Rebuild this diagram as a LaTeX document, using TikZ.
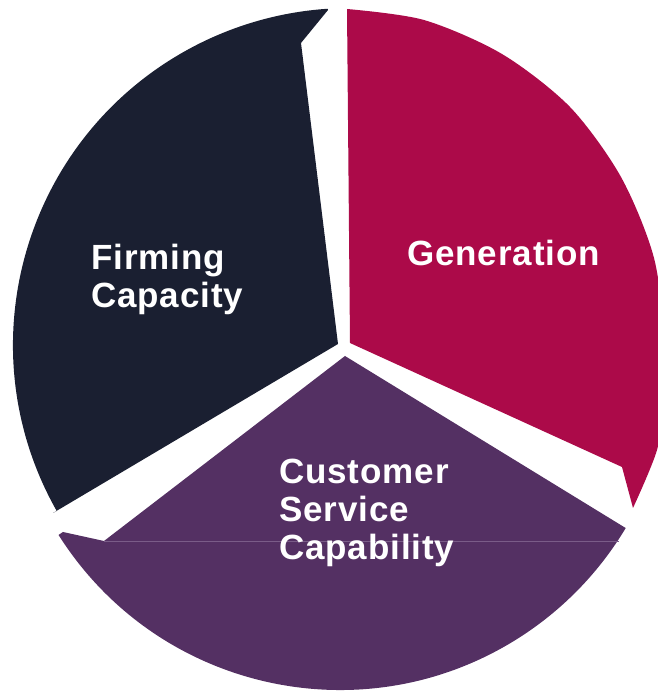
\documentclass[tikz,border=0pt]{standalone}
\usepackage{fontspec}
\usetikzlibrary{calc}
\newfontfamily\lblfont[LetterSpace=2.5]{Liberation Sans Bold}
\definecolor{navyc}{HTML}{1A1F31}
\definecolor{crimsonc}{HTML}{AC0A49}
\definecolor{plumc}{HTML}{543063}
\definecolor{plumline}{HTML}{7A5C88}
\tikzset{
  lbl/.style={anchor=base west, inner sep=0pt, text=white,
    font=\lblfont\fontsize{35}{38}\selectfont}
}
\begin{document}
\begin{tikzpicture}[x=1pt,y=1pt]
\useasboundingbox (0,0) rectangle (658,691);
\clip (0,0) rectangle (658,691);
% centres of the arcs
\coordinate (cD) at (350,346);
\coordinate (cP) at (340,334);
% Firming Capacity slice
\fill[navyc] (338,347) -- (53,178) -- ($(cD)+(209.5:337pt)$)
  arc[start angle=209.5, end angle=93.8, radius=337pt]
  -- (328,681) -- (301,648) -- cycle;
% Generation slice
\fill[crimsonc] (347,682) -- (350,348) -- (622,224) -- (633,183)
  -- plot[smooth] coordinates {(633,183) (657,241) (663,291) (665,346)
     (654,433) (621,514) (570,584) (502,637) (424,671) (347,682)} -- cycle;
% Customer Service Capability slice
\fill[plumc] (345,335) -- (104,150) -- (63,159) -- ($(cP)+(212.3:333pt)$)
  arc[start angle=212.3, end angle=329.1, radius=333pt]
  -- (624,164) -- cycle;
\draw[plumline, line width=0.8pt] (104,150) -- (619,150);
% labels
\node[lbl] (firm) at (91,421) {\begin{tabular}[t]{@{}l@{}}Firming\\Capacity\end{tabular}};
\node[lbl] (gen) at (407,425) {Generation};
\node[lbl] (cust) at (279,207) {\begin{tabular}[t]{@{}l@{}}Customer\\Service\\Capability\end{tabular}};
\end{tikzpicture}
\end{document}
